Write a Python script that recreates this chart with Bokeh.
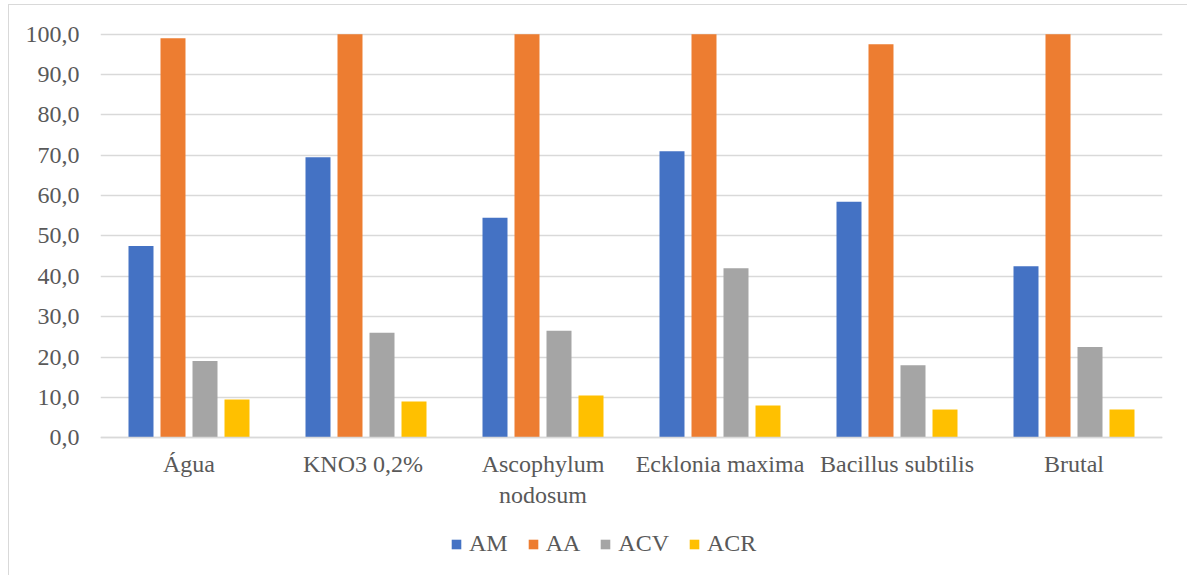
from bokeh.plotting import figure
from bokeh.models import FactorRange, Range1d, FixedTicker, Legend, LegendItem
from bokeh.transform import dodge
from bokeh.embed import file_html
from bokeh.resources import INLINE

# Treatments and measured percentages per variable
categories = ["Água", "KNO3  0,2%", "Ascophylum\nnodosum", "Ecklonia maxima",
              "Bacillus subtilis", "Brutal"]
am = [47.5, 69.5, 54.5, 71.0, 58.5, 42.5]
aa = [99.0, 100.0, 100.0, 100.0, 97.5, 100.0]
acv = [19.0, 26.0, 26.5, 42.0, 18.0, 22.5]
acr = [9.5, 9.0, 10.5, 8.0, 7.0, 7.0]

series_names = ["AM", "AA", "ACV", "ACR"]
series_colors = ["#4472C4", "#ED7D31", "#A5A5A5", "#FFC000"]

y_ticks = [0, 10, 20, 30, 40, 50, 60, 70, 80, 90, 100]
y_tick_labels = ["0,0", "10,0", "20,0", "30,0", "40,0", "50,0",
                 "60,0", "70,0", "80,0", "90,0", "100,0"]

FONT = "Liberation Serif"
FONT_SIZE = "24px"
TEXT_COLOR = "#595959"
GRID_COLOR = "#d9d9d9"

data = dict(cat=categories, AM=am, AA=aa, ACV=acv, ACR=acr)

# The frame reaches down to the canvas bottom so the category labels and the
# legend sit inside it; the x axis is pinned at zero.
x_range = FactorRange(*categories, range_padding=0)
p = figure(
    x_range=x_range,
    y_range=Range1d(-34.37, 100.67),
    width=1179, height=571,
    output_backend="svg", toolbar_location=None,
    min_border_left=91, min_border_right=26,
    min_border_top=26, min_border_bottom=0,
    margin=(4, 0, 0, 8),
    styles={"border-left": "1px solid #d9d9d9", "border-top": "1px solid #d9d9d9"},
)
p.outline_line_color = None
p.background_fill_color = "white"
p.border_fill_color = "white"

offsets = [-0.2712, -0.0904, 0.0904, 0.2712]
bar_width = 0.1412
renderers = []
for name, color, off in zip(series_names, series_colors, offsets):
    r = p.vbar(x=dodge("cat", off, range=x_range), top=name, width=bar_width,
               source=data, fill_color=color, line_color=None)
    renderers.append(r)

# y axis
p.yaxis.ticker = FixedTicker(ticks=y_ticks)
p.yaxis.major_label_overrides = {t: lab for t, lab in zip(y_ticks, y_tick_labels)}
p.yaxis.axis_line_color = None
p.yaxis.major_tick_line_color = None
p.yaxis.minor_tick_line_color = None
p.yaxis.major_label_standoff = 15
p.yaxis.major_label_text_font = FONT
p.yaxis.major_label_text_font_size = FONT_SIZE
p.yaxis.major_label_text_color = TEXT_COLOR

# x axis
p.xaxis.fixed_location = 0
p.xaxis.axis_line_color = GRID_COLOR
p.xaxis.axis_line_width = 1.5
p.xaxis.major_tick_line_color = None
p.xaxis.minor_tick_line_color = None
p.xaxis.major_label_standoff = 7
p.xaxis.major_label_text_font = FONT
p.xaxis.major_label_text_font_size = FONT_SIZE
p.xaxis.major_label_text_color = TEXT_COLOR
p.xaxis.major_label_orientation = "horizontal"

p.xgrid.grid_line_color = None
p.ygrid.grid_line_color = GRID_COLOR
p.ygrid.grid_line_width = 1.5

legend = Legend(
    items=[LegendItem(label=n, renderers=[r]) for n, r in zip(series_names, renderers)],
    orientation="horizontal",
    location=(350, 19),
    padding=0, margin=0, spacing=19,
    glyph_width=12, glyph_height=12, label_standoff=7,
    label_text_font=FONT, label_text_font_size=FONT_SIZE, label_text_color=TEXT_COLOR,
    border_line_color=None, background_fill_alpha=0,
)
p.add_layout(legend, "center")

open("out.html", "w").write(file_html(p, INLINE))
